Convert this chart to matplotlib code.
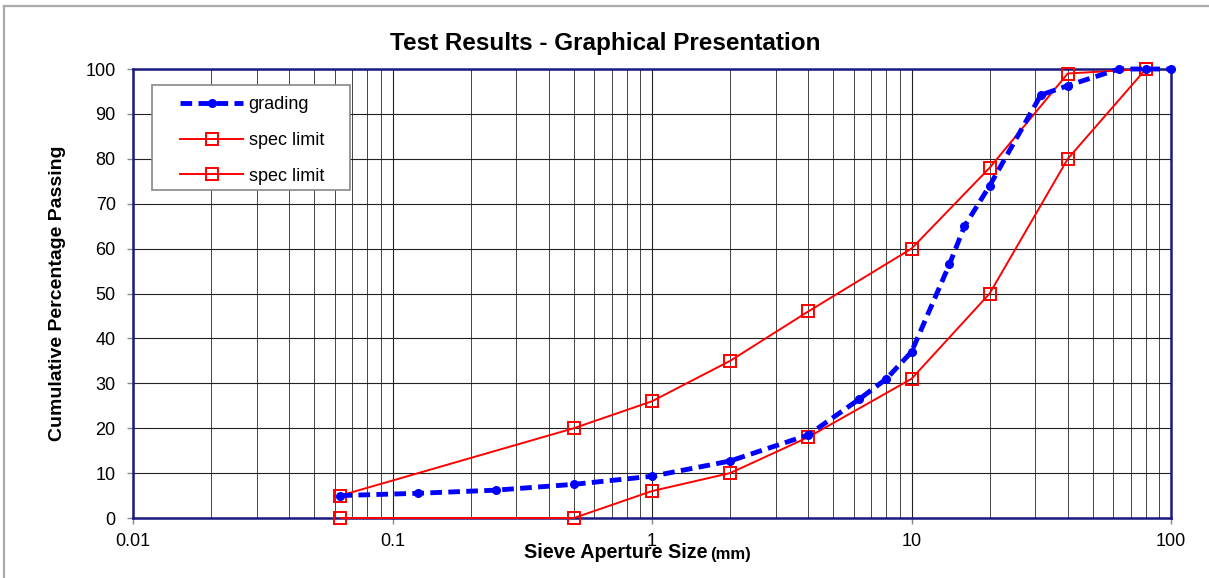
import matplotlib
matplotlib.use("Agg")
import matplotlib.pyplot as plt
from matplotlib.lines import Line2D
from matplotlib.patches import Rectangle
from matplotlib.ticker import LogLocator, NullFormatter

plt.rcParams['font.family'] = ['Liberation Sans', 'DejaVu Sans']

# Data
grading_size = [0.063, 0.125, 0.25, 0.5, 1, 2, 4, 6.3, 8, 10, 14, 16, 20, 31.5, 40, 63, 80, 100]
grading_pass = [5, 5.5, 6.2, 7.5, 9.3, 12.7, 18.5, 26.5, 31, 37, 56.5, 65, 74, 94.2, 96.3, 100, 100, 100]

upper_size = [0.063, 0.5, 1, 2, 4, 10, 20, 40, 80]
upper_pass = [5, 20, 26, 35, 46, 60, 78, 99, 100]

lower_size = [0.063, 0.5, 1, 2, 4, 10, 20, 40, 80]
lower_pass = [0, 0, 6, 10, 18, 31, 50, 80, 100]

xticks = [0.01, 0.1, 1, 10, 100]
xtick_labels = ["0.01", "0.1", "1", "10", "100"]
yticks = list(range(0, 101, 10))

fig = plt.figure(figsize=(12.09, 5.78), dpi=100)
ax = fig.add_axes([0.110, 0.1038, 0.8586, 0.7768])

ax.plot(grading_size, grading_pass, color='#0000FF', lw=3.5, ls=(0, (2.4, 1.3)),
        marker='o', ms=5.5, label='grading', zorder=4, clip_on=False)
ax.plot(upper_size, upper_pass, color='#FF0000', lw=1.4, marker='s', ms=9,
        mfc='none', mec='#FF0000', mew=1.4, label='spec limit', zorder=3, clip_on=False)
ax.plot(lower_size, lower_pass, color='#FF0000', lw=1.4, marker='s', ms=9,
        mfc='none', mec='#FF0000', mew=1.4, label='spec limit', zorder=3, clip_on=False)

ax.set_xscale('log')
ax.set_xlim(0.01, 100)
ax.set_ylim(0, 100)
ax.set_xticks(xticks)
ax.set_xticklabels(xtick_labels)
ax.xaxis.set_minor_locator(LogLocator(base=10, subs=range(2, 10)))
ax.xaxis.set_minor_formatter(NullFormatter())
ax.set_yticks(yticks)
ax.grid(True, which='major', color='#222222', lw=0.8)
ax.grid(True, which='minor', axis='x', color='#444444', lw=0.7)
ax.tick_params(axis='both', which='major', length=4.5, width=1, color='#888888',
               labelsize=13, direction='out')
ax.tick_params(axis='y', which='major', pad=8)
ax.tick_params(axis='x', which='major', pad=6)
ax.tick_params(axis='x', which='minor', length=0)
ax.set_axisbelow(True)
for s in ax.spines.values():
    s.set_color('#1a1a80')
    s.set_linewidth(1.8)

fig.text(0.501, 0.9256, 'Test Results - Graphical Presentation', fontsize=17.5,
         fontweight='bold', ha='center', va='center')
ax.set_ylabel('Cumulative Percentage Passing', fontsize=14, fontweight='bold', labelpad=14)

fig.text(0.5848, 0.0433, 'Sieve Aperture Size', fontsize=14.2, fontweight='bold',
         ha='right', va='center')
fig.text(0.5875, 0.0415, '(mm)', fontsize=12, fontweight='bold', ha='left', va='center')

# legend box (drawn separately to match the reference's proportions)
ax.add_patch(Rectangle((0.0183, 0.7305), 0.1908, 0.2339, transform=ax.transAxes,
                       facecolor='white', edgecolor='#888888', lw=1.2, zorder=4.5))
leg = ax.legend(loc='upper left', bbox_to_anchor=(0.0366, 0.959), fontsize=13, frameon=False,
                borderpad=0.5, labelspacing=1.03,
                handlelength=3.5, handletextpad=0.3, borderaxespad=0)
leg.set_zorder(5)

# outer chart border (top and left edges)
fig.add_artist(Line2D([4 / 1209, 1.0], [1 - 6 / 578, 1 - 6 / 578], transform=fig.transFigure,
                      color='#aaaaaa', lw=1.6))
fig.add_artist(Line2D([4 / 1209, 4 / 1209], [0.0, 1 - 6 / 578], transform=fig.transFigure,
                      color='#aaaaaa', lw=1.6))

fig.savefig('out.png', dpi=100)
